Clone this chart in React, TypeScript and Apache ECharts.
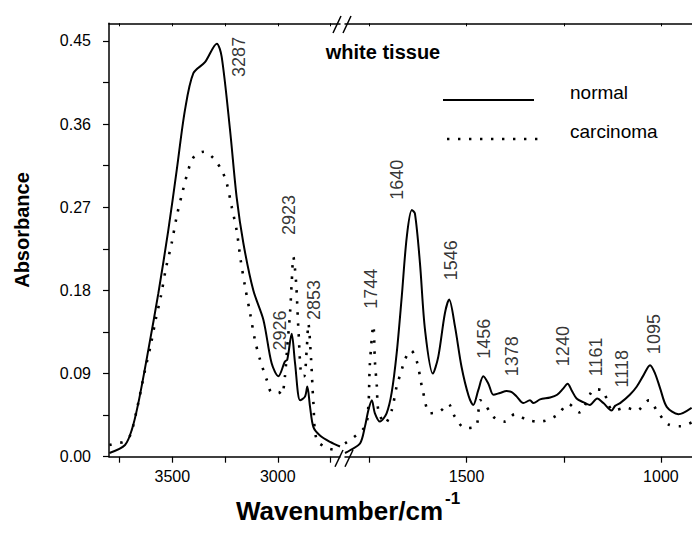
import React, { useEffect, useRef } from "react";
import * as echarts from "echarts";

// ---- data (wavenumber in cm^-1, absorbance) ----
const normalHighWn = [3798, 3724, 3692, 3661, 3614, 3566, 3519, 3479, 3440, 3400, 3345, 3289, 3266, 3226, 3195, 3163, 3116, 3068, 3029, 2997, 2966, 2955, 2934, 2918, 2894, 2871, 2860, 2847, 2831, 2800, 2752, 2705];
const normalHighAbs = [0.004, 0.0127, 0.029, 0.058, 0.115, 0.177, 0.245, 0.31, 0.375, 0.415, 0.427, 0.447, 0.433, 0.353, 0.281, 0.231, 0.18, 0.148, 0.101, 0.087, 0.103, 0.105, 0.133, 0.101, 0.061, 0.065, 0.076, 0.054, 0.032, 0.023, 0.016, 0.011];

const carcinomaHighWn = [3798, 3756, 3732, 3700, 3669, 3629, 3602, 3579, 3553, 3530, 3503, 3479, 3451, 3416, 3392, 3350, 3305, 3266, 3242, 3218, 3195, 3176, 3155, 3131, 3108, 3084, 3052, 3029, 2997, 2981, 2966, 2955, 2942, 2934, 2926, 2913, 2902, 2886, 2875, 2862, 2855, 2842, 2831, 2815, 2760, 2713];
const carcinomaHighAbs = [0.0127, 0.015, 0.016, 0.023, 0.05, 0.094, 0.121, 0.148, 0.175, 0.204, 0.231, 0.26, 0.287, 0.316, 0.326, 0.33, 0.323, 0.31, 0.296, 0.27, 0.245, 0.213, 0.184, 0.155, 0.126, 0.105, 0.083, 0.07, 0.07, 0.067, 0.087, 0.119, 0.155, 0.188, 0.216, 0.188, 0.137, 0.087, 0.087, 0.119, 0.144, 0.105, 0.058, 0.018, 0.009, 0.007];

const normalLowWn = [1813, 1800, 1774, 1762, 1753, 1744, 1736, 1723, 1706, 1693, 1680, 1667, 1654, 1641, 1633, 1620, 1607, 1587, 1573, 1556, 1545, 1530, 1513, 1495, 1483, 1470, 1457, 1444, 1431, 1414, 1397, 1384, 1371, 1354, 1337, 1328, 1311, 1285, 1267, 1251, 1240, 1230, 1217, 1200, 1183, 1164, 1148, 1127, 1118, 1105, 1080, 1062, 1045, 1028, 1015, 1002, 985, 955, 921];
const normalLowAbs = [0.004, 0.007, 0.0145, 0.032, 0.05, 0.061, 0.047, 0.038, 0.047, 0.069, 0.112, 0.173, 0.238, 0.267, 0.263, 0.209, 0.137, 0.09, 0.108, 0.155, 0.17, 0.141, 0.097, 0.066, 0.056, 0.072, 0.087, 0.079, 0.067, 0.069, 0.071, 0.07, 0.065, 0.058, 0.061, 0.058, 0.062, 0.064, 0.067, 0.074, 0.079, 0.072, 0.063, 0.059, 0.056, 0.063, 0.058, 0.05, 0.055, 0.058, 0.067, 0.076, 0.088, 0.099, 0.09, 0.074, 0.054, 0.046, 0.053];

const carcinomaLowWn = [1813, 1762, 1753, 1749, 1740, 1736, 1731, 1727, 1710, 1693, 1680, 1667, 1659, 1643, 1628, 1614, 1594, 1569, 1547, 1530, 1504, 1476, 1470, 1465, 1453, 1431, 1401, 1376, 1345, 1316, 1298, 1267, 1238, 1210, 1170, 1148, 1135, 1122, 1092, 1062, 1031, 1009, 981, 949, 921];
const carcinomaLowAbs = [0.0145, 0.032, 0.054, 0.1, 0.142, 0.103, 0.076, 0.05, 0.036, 0.05, 0.076, 0.094, 0.105, 0.115, 0.103, 0.074, 0.047, 0.049, 0.057, 0.043, 0.031, 0.033, 0.048, 0.061, 0.057, 0.043, 0.038, 0.046, 0.04, 0.038, 0.039, 0.045, 0.057, 0.048, 0.073, 0.071, 0.056, 0.05, 0.053, 0.05, 0.061, 0.049, 0.035, 0.033, 0.037];

// peak annotations: label, anchor wavenumber, anchor absorbance (text starts here, reads upward)
const highPeakLabels = ["3287", "2923", "2926", "2853"];
const highPeakWn = [3184, 2946, 2989, 2829];
const highPeakAbs = [0.411, 0.24, 0.115, 0.148];
const lowPeakLabels = ["1744", "1640", "1546", "1456", "1378", "1240", "1161", "1118", "1095"];
const lowPeakWn = [1747, 1680, 1541, 1455, 1383, 1251, 1168, 1100, 1017];
const lowPeakAbs = [0.16, 0.278, 0.191, 0.106, 0.087, 0.098, 0.087, 0.075, 0.111];

// axis ticks
const yTicks = [0, 0.045, 0.09, 0.135, 0.18, 0.225, 0.27, 0.315, 0.36, 0.405, 0.45];
const yLabels = [0, 0.09, 0.18, 0.27, 0.36, 0.45];
const highTicks = [3750, 3500, 3250, 3000, 2750];
const highLabels = [3500, 3000];
const lowTicks = [1750, 1500, 1250, 1000];
const lowLabels = [1500, 1000];

const FONT = "Liberation Sans, Arial, sans-serif";

const zip = (a: number[], b: number[]) => a.map((v, i) => [v, b[i]]);

export default function App() {
  const ref = useRef<HTMLDivElement>(null);
  useEffect(() => {
    if (!ref.current) return;
    const chart = echarts.init(ref.current, undefined, { renderer: "svg" });
    const axisLine = { show: true, lineStyle: { color: "#000", width: 1.5 } };
    const bottomX = (min: number, max: number, ticks: number[], labels: number[], gridIndex: number) => ({
      type: "value",
      gridIndex,
      min,
      max,
      inverse: true,
      position: "bottom",
      axisLine,
      axisTick: { show: true, inside: false, length: 6, lineStyle: { color: "#000", width: 1.2 }, customValues: ticks },
      axisLabel: {
        show: true,
        customValues: labels,
        margin: 12,
        fontSize: 16,
        color: "#000",
        fontFamily: FONT,
        formatter: (v: number) => String(v),
      },
      splitLine: { show: false },
    });
    const topX = (min: number, max: number, ticks: number[], gridIndex: number) => ({
      type: "value",
      gridIndex,
      min,
      max,
      inverse: true,
      position: "top",
      axisLine,
      axisTick: { show: true, inside: true, length: 3, lineStyle: { color: "#000", width: 1 }, customValues: ticks },
      axisLabel: { show: false },
      splitLine: { show: false },
    });
    const annot = (labels: string[], wn: number[], ab: number[], idx: number) => ({
      type: "scatter",
      xAxisIndex: idx,
      yAxisIndex: idx,
      silent: true,
      symbol: "circle",
      symbolSize: 1,
      itemStyle: { color: "rgba(0,0,0,0)" },
      label: {
        show: true,
        formatter: "{b}",
        position: "inside",
        rotate: 90,
        align: "left",
        verticalAlign: "middle",
        fontSize: 18,
        color: "#000",
        fontFamily: FONT,
      },
      data: labels.map((n, i) => ({ name: n, value: [wn[i], ab[i]] })),
      z: 5,
    });
    const solid = { color: "#000", width: 2, type: "solid" };
    const dotted = { color: "#000", width: 2.6, type: [2.4, 8.6], cap: "butt" };
    const option: any = {
      animation: false,
      backgroundColor: "#fff",
      grid: [
        { left: 109, top: 23.3, width: 231, height: 433.4, containLabel: false },
        { left: 345, top: 23.3, width: 347.1, height: 433.4, containLabel: false },
      ],
      xAxis: [
        bottomX(2705, 3800, highTicks, highLabels, 0),
        bottomX(920, 1813, lowTicks, lowLabels, 1),
        topX(2705, 3800, highTicks, 0),
        topX(920, 1813, lowTicks, 1),
      ],
      yAxis: [
        {
          type: "value",
          gridIndex: 0,
          min: 0,
          max: 0.469,
          axisLine,
          axisTick: { show: true, inside: false, length: 6, lineStyle: { color: "#000", width: 1.2 }, customValues: yTicks },
          axisLabel: {
            show: true,
            customValues: yLabels,
            margin: 18,
            fontSize: 16,
            color: "#000",
            fontFamily: FONT,
            formatter: (v: number) => v.toFixed(2),
          },
          splitLine: { show: false },
        },
        { type: "value", gridIndex: 1, min: 0, max: 0.469, show: false, splitLine: { show: false } },
      ],
      series: [
        { type: "line", xAxisIndex: 0, yAxisIndex: 0, data: zip(normalHighWn, normalHighAbs), showSymbol: false, smooth: 0.3, lineStyle: solid, z: 3 },
        { type: "line", xAxisIndex: 0, yAxisIndex: 0, data: zip(carcinomaHighWn, carcinomaHighAbs), showSymbol: false, smooth: 0.3, lineStyle: dotted, z: 2 },
        { type: "line", xAxisIndex: 1, yAxisIndex: 1, data: zip(normalLowWn, normalLowAbs), showSymbol: false, smooth: 0.3, lineStyle: solid, z: 3 },
        { type: "line", xAxisIndex: 1, yAxisIndex: 1, data: zip(carcinomaLowWn, carcinomaLowAbs), showSymbol: false, smooth: 0.3, lineStyle: dotted, z: 2 },
        annot(highPeakLabels, highPeakWn, highPeakAbs, 0),
        annot(lowPeakLabels, lowPeakWn, lowPeakAbs, 1),
      ],
      graphic: [
        // axis break marks
        { type: "line", shape: { x1: 335, y1: 466.7, x2: 343, y2: 450 }, style: { stroke: "#000", lineWidth: 1.5 } },
        { type: "line", shape: { x1: 345, y1: 466.7, x2: 353, y2: 450 }, style: { stroke: "#000", lineWidth: 1.5 } },
        { type: "line", shape: { x1: 333, y1: 33, x2: 341, y2: 16 }, style: { stroke: "#000", lineWidth: 1.5 } },
        { type: "line", shape: { x1: 343, y1: 33, x2: 351, y2: 16 }, style: { stroke: "#000", lineWidth: 1.5 } },
        // titles
        {
          type: "text",
          x: 22,
          y: 230,
          rotation: Math.PI / 2,
          style: { text: "Absorbance", font: `bold 20px ${FONT}`, fill: "#000", align: "center", verticalAlign: "middle" },
        },
        {
          type: "text",
          x: 236,
          y: 511,
          style: { text: "Wavenumber/cm", font: `bold 26px ${FONT}`, fill: "#000", align: "left", verticalAlign: "middle" },
        },
        {
          type: "text",
          x: 445,
          y: 498,
          style: { text: "-1", font: `bold 17px ${FONT}`, fill: "#000", align: "left", verticalAlign: "middle" },
        },
        {
          type: "text",
          x: 383,
          y: 52,
          style: { text: "white tissue", font: `bold 20px ${FONT}`, fill: "#000", align: "center", verticalAlign: "middle" },
        },
        // legend
        { type: "line", shape: { x1: 443, y1: 100, x2: 534, y2: 100 }, style: { stroke: "#000", lineWidth: 2 } },
        { type: "line", shape: { x1: 447, y1: 139, x2: 545, y2: 139 }, style: { stroke: "#000", lineWidth: 2.6, lineDash: [2.4, 8.6] } },
        {
          type: "text",
          x: 570,
          y: 92,
          style: { text: "normal", font: `19px ${FONT}`, fill: "#000", align: "left", verticalAlign: "middle" },
        },
        {
          type: "text",
          x: 570,
          y: 131,
          style: { text: "carcinoma", font: `19px ${FONT}`, fill: "#000", align: "left", verticalAlign: "middle" },
        },
      ],
    };
    chart.setOption(option);
    return () => chart.dispose();
  }, []);
  return <div ref={ref} style={{ position: "fixed", left: 0, top: 0, width: 692, height: 533, background: "#fff" }} />;
}
